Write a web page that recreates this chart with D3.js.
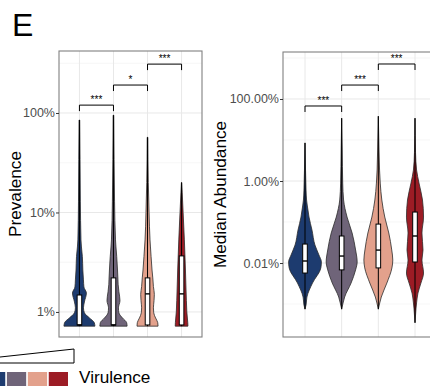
<!DOCTYPE html>
<html>
<head>
<meta charset="utf-8">
<script src="https://cdn.jsdelivr.net/npm/d3@7"></script>
<style>
  body { margin: 0; background: #fff; }
  svg { display: block; font-family: "Liberation Sans", Arial, sans-serif; }
</style>
</head>
<body>
<div id="container"></div>
<script>
const width = 430, height = 386;

// virulence groups, low -> high
const groups = ["V1", "V2", "V3", "V4"];
const colors = ["#1d3b6f", "#6f6479", "#e3a18c", "#9c1c25"];

// ---- Prevalence (%) ----
// density profiles: [value %, relative density 0-100]
const prevDensity = [
  [[0.72,100],[0.78,96],[0.87,65],[0.98,32],[1.1,26],[1.26,32],[1.55,45],[1.78,29],[2.1,26],[2.64,22],[3.6,19],[4.5,13],[5.3,10],[13,6],[34,4],[85,2]],
  [[0.72,88],[0.78,85],[0.87,58],[0.98,35],[1.1,32],[1.3,42],[1.6,35],[1.9,30],[2.1,29],[2.64,26],[3.6,21],[4.5,16],[5.3,13],[13,7],[34,4],[95,2]],
  [[0.72,68],[0.78,66],[0.87,52],[0.98,40],[1.1,38],[1.3,42],[1.5,44],[1.8,38],[2.2,34],[2.64,29],[3.6,23],[4.5,19],[5.3,16],[10,10],[20,5],[57,2]],
  [[0.72,41],[0.78,40],[1.0,34],[1.3,31],[2.64,25],[5.3,18],[10,10],[16,4],[20,1]]
];
const prevBox = [[0.74,0.74,1.48],[0.74,0.74,2.2],[0.74,1.52,2.2],[0.74,1.52,3.66]]; // q1, median, q3
const prevRange = [[0.72,85],[0.72,95],[0.72,57],[0.72,20]];
const prevTicks = [1, 10, 100];
const prevMinor = [3.16, 31.6, 316];
const prevSig = ["***", "*", "***"];
const prevSigY = [120, 191, 310];

// ---- Median abundance (%) ----
const abDensity = [
  [[0.00075,0],[0.00095,6],[0.00148,11],[0.00325,43],[0.0076,91],[0.0106,94],[0.0157,80],[0.0275,57],[0.064,40],[0.132,23],[0.196,17],[0.344,9],[0.6,6],[1.85,3],[8.5,0]],
  [[0.00075,0],[0.00106,8],[0.00148,17],[0.00325,54],[0.0068,80],[0.0106,89],[0.0208,80],[0.054,60],[0.132,31],[0.344,11],[0.89,6],[5.7,3],[34,0]],
  [[0.00075,0],[0.00106,8],[0.00148,17],[0.00325,49],[0.0076,78],[0.0118,83],[0.0208,77],[0.054,60],[0.132,37],[0.344,20],[0.89,11],[1.85,7],[5.7,4],[38,0]],
  [[0.00035,0],[0.0008,6],[0.00106,9],[0.00185,17],[0.00325,34],[0.0057,49],[0.0118,40],[0.0208,46],[0.054,40],[0.132,49],[0.344,43],[0.89,23],[1.85,9],[5,3],[34,0]]
];
const abBox = [[0.0057,0.0112,0.029],[0.0068,0.0148,0.0456],[0.0076,0.0207,0.089],[0.0106,0.0456,0.175]];
const abRange = [[0.00075,8.5],[0.00075,34],[0.00075,38],[0.00035,34]];
const abTicks = [0.01, 1, 100];
const abMinor = [0.001, 0.1, 10, 1000];
const abSig = ["***", "***", "***"];
const abSigY = [67.5, 219, 714];

const svg = d3.select("#container")
  .append("svg")
  .attr("width", width)
  .attr("height", height);

// panel letter
svg.append("text")
  .attr("x", 12).attr("y", 36)
  .attr("font-size", 32)
  .text("E");

function drawPanel(o) {
  const x = d3.scalePoint().domain(groups).range([o.left, o.right]).padding(0.6);
  const y = d3.scaleLog().domain(o.yDomain).range([o.bottom, o.top]);
  const w = d3.scaleLinear().domain([0, 100]).range([0, x.step() * o.widthFrac]);

  const g = svg.append("g");

  // grid
  g.selectAll(".minor").data(o.minor).join("line")
    .attr("x1", o.left).attr("x2", o.right)
    .attr("y1", d => y(d)).attr("y2", d => y(d))
    .attr("stroke", "#f0f0f0").attr("stroke-width", 0.6);
  g.selectAll(".major").data(o.ticks).join("line")
    .attr("x1", o.left).attr("x2", o.right)
    .attr("y1", d => y(d)).attr("y2", d => y(d))
    .attr("stroke", "#e8e8e8").attr("stroke-width", 1);
  g.selectAll(".vgrid").data(groups).join("line")
    .attr("x1", d => x(d)).attr("x2", d => x(d))
    .attr("y1", o.top).attr("y2", o.bottom)
    .attr("stroke", "#e8e8e8").attr("stroke-width", 1);

  // violins
  groups.forEach((grp, i) => {
    const cx = x(grp);
    const area = d3.area()
      .y(d => y(d[0]))
      .x0(d => cx - w(d[1]))
      .x1(d => cx + w(d[1]))
      .curve(d3.curveMonotoneY);
    g.append("path")
      .attr("d", area(o.density[i]))
      .attr("fill", colors[i])
      .attr("stroke", "#2b2b2b")
      .attr("stroke-width", 0.8);
    g.append("line")
      .attr("x1", cx).attr("x2", cx)
      .attr("y1", y(o.range[i][0])).attr("y2", y(o.range[i][1]))
      .attr("stroke", "#000").attr("stroke-width", 1);
    const [q1, med, q3] = o.box[i];
    g.append("rect")
      .attr("x", cx - 2.3).attr("width", 4.6)
      .attr("y", y(q3)).attr("height", y(q1) - y(q3))
      .attr("fill", "#fff").attr("stroke", "#000").attr("stroke-width", 1);
    g.append("line")
      .attr("x1", cx - 2.3).attr("x2", cx + 2.3)
      .attr("y1", y(med)).attr("y2", y(med))
      .attr("stroke", "#000").attr("stroke-width", 1.4);
  });

  // significance brackets
  o.sig.forEach((s, i) => {
    const x1 = x(groups[i]), x2 = x(groups[i + 1]), yy = y(o.sigY[i]);
    g.append("path")
      .attr("d", `M${x1},${yy + 6}V${yy}H${x2}V${yy + 6}`)
      .attr("fill", "none").attr("stroke", "#000").attr("stroke-width", 1);
    g.append("text")
      .attr("x", (x1 + x2) / 2).attr("y", yy - 2)
      .attr("text-anchor", "middle")
      .attr("font-size", 10)
      .text(s);
  });

  // frame
  g.append("rect")
    .attr("x", o.left).attr("y", o.top)
    .attr("width", o.right - o.left).attr("height", o.bottom - o.top)
    .attr("fill", "none").attr("stroke", "#808080").attr("stroke-width", 1.1);

  // y axis
  const ax = g.append("g")
    .attr("transform", `translate(${o.left},0)`)
    .call(d3.axisLeft(y).tickValues(o.ticks).tickFormat(o.fmt).tickSize(3).tickPadding(1));
  ax.select(".domain").remove();
  ax.selectAll("line").attr("stroke", "#333");
  ax.selectAll("text").attr("fill", "#4d4d4d").attr("font-size", 12.5)
    .attr("font-family", "Liberation Sans, Arial, sans-serif");

  g.append("text")
    .attr("transform", `translate(${o.titleX},${(o.top + o.bottom) / 2}) rotate(-90)`)
    .attr("text-anchor", "middle")
    .attr("font-size", 17.2)
    .text(o.title);
}

drawPanel({
  left: 59, right: 202, top: 51, bottom: 337,
  yDomain: [0.56, 420], widthFrac: 0.455,
  density: prevDensity, box: prevBox, range: prevRange,
  ticks: prevTicks, minor: prevMinor, sig: prevSig, sigY: prevSigY,
  fmt: d => d + "%", title: "Prevalence", titleX: 21
});

drawPanel({
  left: 283, right: 437, top: 52, bottom: 337,
  yDomain: [0.000157, 1400], widthFrac: 0.475,
  density: abDensity, box: abBox, range: abRange,
  ticks: abTicks, minor: abMinor, sig: abSig, sigY: abSigY,
  fmt: d => d.toFixed(2) + "%", title: "Median Abundance", titleX: 226
});

// virulence legend: wedge + colour squares
svg.append("path")
  .attr("d", "M-55,363L74,349V363Z")
  .attr("fill", "#fff").attr("stroke", "#000").attr("stroke-width", 1);

const legX = d3.scaleBand().domain(groups).range([-14, 68]).paddingInner(0.08);
svg.selectAll(".leg").data(groups).join("rect")
  .attr("x", d => legX(d)).attr("y", 372)
  .attr("width", legX.bandwidth()).attr("height", 20)
  .attr("fill", (d, i) => colors[i]);

svg.append("text")
  .attr("x", 79).attr("y", 383)
  .attr("font-size", 17.2)
  .text("Virulence");
</script>
</body>
</html>
